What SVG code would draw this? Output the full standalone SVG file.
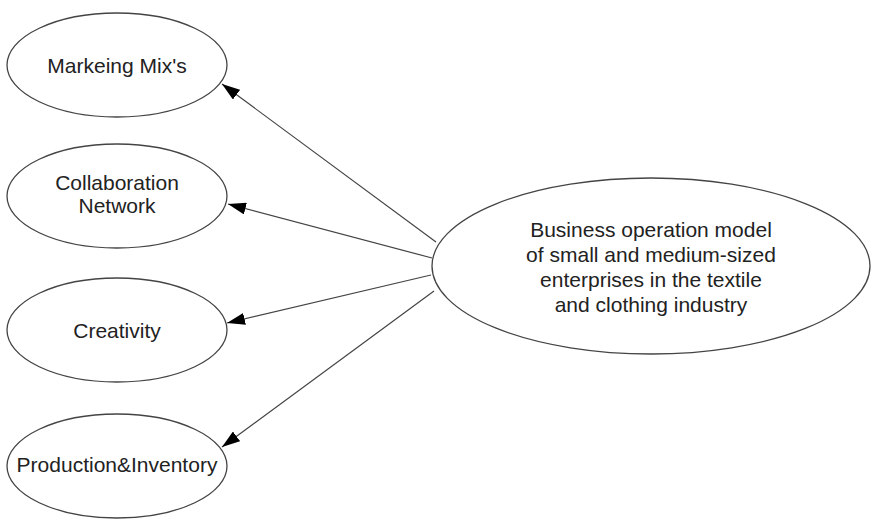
<svg xmlns="http://www.w3.org/2000/svg" width="889" height="522" viewBox="0 0 889 522">
<style>
.node ellipse{fill:#fff;stroke:#444;stroke-width:1.3}
.node text{font-family:"Liberation Sans",Arial,sans-serif;font-size:21px;fill:#222;text-anchor:middle}
.edge{stroke:#444;stroke-width:1.2;fill:none;marker-end:url(#ah)}
</style>
<defs>
<marker id="ah" markerUnits="userSpaceOnUse" markerWidth="18" markerHeight="12" refX="18" refY="6" orient="auto">
<path d="M0,0 L18,6 L0,12 Z" fill="#000"/>
</marker>
</defs>
<rect width="889" height="522" fill="#fff"/>
<g id="connectors">
<line class="edge" x1="436" y1="242" x2="222" y2="84"/>
<line class="edge" x1="432" y1="258" x2="228" y2="204"/>
<line class="edge" x1="431" y1="275" x2="227" y2="323"/>
<line class="edge" x1="434" y1="291" x2="222" y2="447"/>
</g>
<g id="n-marketing" class="node">
<ellipse cx="117" cy="65" rx="110" ry="52"/>
<text x="117" y="73">Markeing Mix's</text>
</g>
<g id="n-collab" class="node">
<ellipse cx="117" cy="196" rx="110" ry="52"/>
<text x="117" y="190">Collaboration</text>
<text x="117" y="213">Network</text>
</g>
<g id="n-creativity" class="node">
<ellipse cx="117" cy="330" rx="110" ry="52"/>
<text x="117" y="338">Creativity</text>
</g>
<g id="n-production" class="node">
<ellipse cx="117" cy="466" rx="110" ry="52"/>
<text x="117" y="472">Production&amp;Inventory</text>
</g>
<g id="n-business" class="node">
<ellipse cx="651" cy="266" rx="219" ry="88"/>
<text x="651" y="237">Business operation model</text>
<text x="651" y="262">of small and medium-sized</text>
<text x="651" y="287">enterprises in the textile</text>
<text x="651" y="312">and clothing industry</text>
</g>
</svg>
